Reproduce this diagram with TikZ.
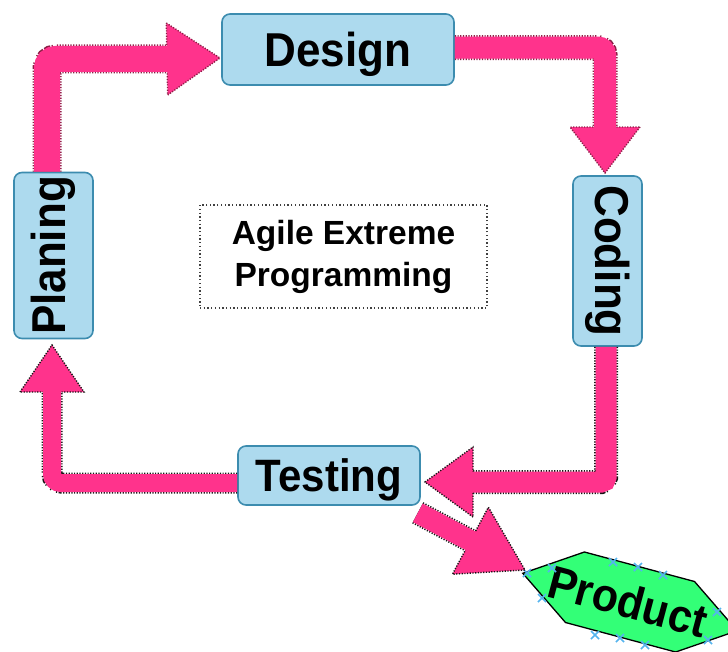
\documentclass[tikz,border=0pt]{standalone}
\usepackage{fontspec}
\setmainfont{Liberation Sans}
\usetikzlibrary{calc}
\definecolor{pinkA}{RGB}{255,51,140}
\definecolor{boxfill}{RGB}{173,218,238}
\definecolor{boxedge}{RGB}{60,140,175}
\definecolor{prodgreen}{RGB}{51,255,119}
\definecolor{xblue}{RGB}{85,180,238}
\definecolor{edgeA}{RGB}{140,30,70}
\definecolor{edgeB}{RGB}{20,20,20}
\tikzset{
  stage/.style={draw=boxedge, line width=1.6pt, fill=boxfill, rounded corners=8pt,
    inner sep=0pt, font=\bfseries\fontsize{44}{44}\selectfont},
  shaftedge/.style={draw=#1, dash pattern=on 1.2pt off 1.5pt},
  shaftfill/.style={draw=pinkA},
  headstyle/.style={fill=pinkA, draw=#1, line width=1.4pt, dash pattern=on 1.2pt off 1.5pt},
  xmarkline/.style={draw=xblue, line width=1.5pt},
}
\newcommand\pinkhead[4]{%
  \filldraw[headstyle=#4] ($(#1)!#3!90:(#2)$) -- (#2) -- ($(#1)!#3!-90:(#2)$) -- cycle;}
\newcommand\tallx[1]{\scalebox{1}[1.08]{#1}}
\begin{document}
\begin{tikzpicture}[x=1pt,y=-1pt]
\useasboundingbox (0,0) rectangle (728,651);
\clip (0,0) rectangle (728,651);

% stage nodes
\node[stage, minimum width=232pt, minimum height=71pt, text depth=0pt] (design) at (338,49.5) {\tallx{Design}};
\node[stage, minimum width=79pt, minimum height=166pt] (plan) at (53.5,255.5) {\rotatebox{90}{\tallx{Planing}}};
\node[stage, minimum width=69pt, minimum height=170pt] (coding) at (607.5,261) {\rotatebox{-90}{\tallx{Coding}}};
\node[stage, minimum width=182pt, minimum height=59pt, text depth=0pt, font=\bfseries\fontsize{42}{42}\selectfont] (testing) at (329,475.5) {\tallx{Testing}};

% centre label
\node[draw=black!75, line width=1.3pt, dash pattern=on 1.3pt off 2.4pt,
  minimum width=287pt, minimum height=103pt, inner sep=0pt, align=center,
  font=\bfseries\fontsize{33.5}{42}\selectfont] (agile) at (343.5,256.5) {Agile Extreme\\Programming};

% product
\coordinate (pc) at (630,602);
\begin{scope}[shift={(pc)}, rotate=-15]
  \filldraw[fill=prodgreen, draw=black, line width=1.3pt]
    (-111,0) -- (-57,-36.5) -- (57,-36.5) -- (111,0) -- (57,36.5) -- (-57,36.5) -- cycle;
\end{scope}
\node[rotate=-15, inner sep=0pt, font=\bfseries\fontsize{43}{43}\selectfont] (product) at ([xshift=-2pt,yshift=1pt]pc) {\tallx{Product}};
\foreach \x/\y in {527/573, 552/568, 542/598, 613/562, 638/567, 663/575, 717/612, 708/640, 595/635, 620/638, 645/645}
  \draw[xmarkline] (\x-4,\y-4) -- (\x+4,\y+4) (\x-4,\y+4) -- (\x+4,\y-4);

% arrow 1: planing -> design
\coordinate (b1) at (167,59); \coordinate (t1) at (220,58);
\coordinate (e1) at ($(b1)!3pt!(t1)$);
\draw[shaftedge=edgeA, line width=29pt, rounded corners=9pt] ([xshift=-6.5pt]plan.north) |- (e1);
\pinkhead{b1}{t1}{36pt}{edgeA}
\draw[shaftfill, line width=26pt, rounded corners=9pt] ([xshift=-6.5pt]plan.north) |- (e1);

% arrow 2: design -> coding
\coordinate (b2) at (605,127); \coordinate (t2) at (605,173);
\coordinate (e2) at ($(b2)!3pt!(t2)$);
\draw[shaftedge=edgeA, line width=25pt, rounded corners=7.5pt] ([yshift=2pt]design.east) -| (e2);
\pinkhead{b2}{t2}{35pt}{edgeA}
\draw[shaftfill, line width=22pt, rounded corners=7.5pt] ([yshift=2pt]design.east) -| (e2);

% arrow 3: coding -> testing
\coordinate (b3) at (473,482); \coordinate (t3) at (425,482);
\coordinate (e3) at ($(b3)!3pt!(t3)$);
\draw[shaftedge=edgeB, line width=24pt, rounded corners=5pt] ([xshift=-1.5pt]coding.south) |- (e3);
\pinkhead{b3}{t3}{35pt}{edgeB}
\draw[shaftfill, line width=21pt, rounded corners=5pt] ([xshift=-1.5pt]coding.south) |- (e3);

% arrow 4: testing -> planing
\coordinate (b4) at (52,392); \coordinate (t4) at (52,345);
\coordinate (e4) at ($(b4)!3pt!(t4)$);
\draw[shaftedge=edgeB, line width=21pt, rounded corners=9pt] ([yshift=-7.5pt]testing.west) -| (e4);
\pinkhead{b4}{t4}{32pt}{edgeB}
\draw[shaftfill, line width=18pt, rounded corners=9pt] ([yshift=-7.5pt]testing.west) -| (e4);

% arrow 5: testing -> product
\coordinate (b5) at (470.4,540.7); \coordinate (t5) at (525,570);
\coordinate (e5) at ($(b5)!3pt!(t5)$);
\draw[shaftedge=edgeB, line width=24pt] ([xshift=-3pt,yshift=-7pt]testing.south east) -- (e5);
\pinkhead{b5}{t5}{38pt}{edgeB}
\draw[shaftfill, line width=21pt] ([xshift=-3pt,yshift=-7pt]testing.south east) -- (e5);
\end{tikzpicture}
\end{document}
